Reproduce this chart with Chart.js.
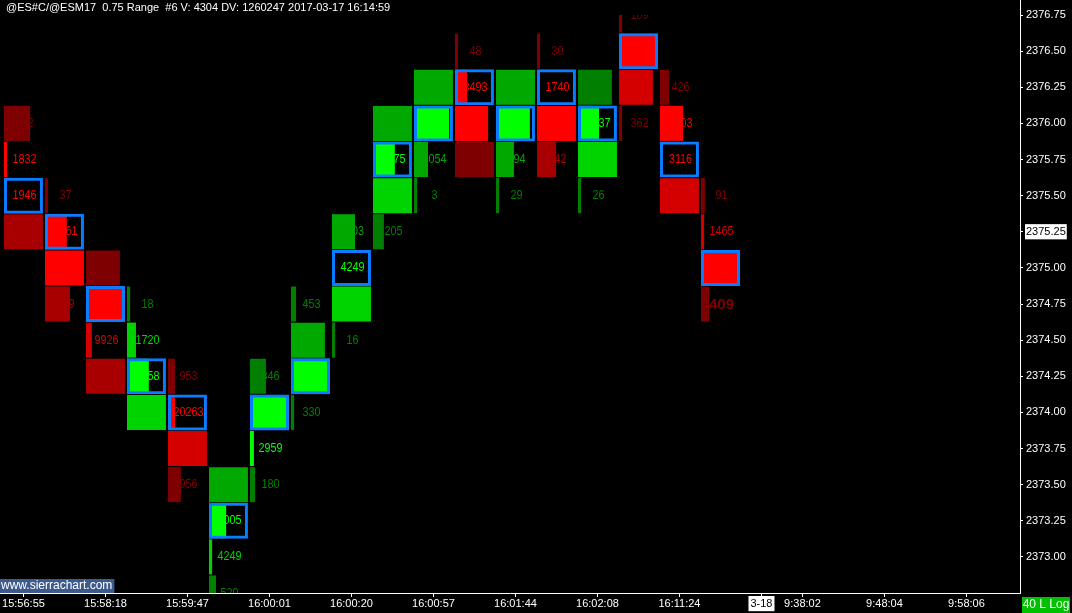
<!DOCTYPE html>
<html>
<head>
<meta charset="utf-8">
<style>
  html, body { margin: 0; padding: 0; background: #000; }
  canvas { display: block; }
</style>
<script src="https://cdn.jsdelivr.net/npm/chart.js@4.4.1/dist/chart.umd.min.js"></script>
</head>
<body>
<canvas id="chart" width="1072" height="613"></canvas>
<script>
/* ── Footprint chart: ES 0.75 range bars ───────────────────── */
const title = '@ES#C/@ESM17  0.75 Range  #6 V: 4304 DV: 1260247 2017-03-17 16:14:59';
const tickSize = 0.25;

// top price of every range bar (each bar covers 4 price levels)
const barHigh = [2376.00, 2375.50, 2375.00, 2374.75, 2374.25, 2373.50, 2374.25, 2374.75, 2375.25,
                 2376.00, 2376.25, 2376.50, 2376.25, 2376.50, 2376.25, 2376.75, 2376.25, 2375.50];

// per bar, levels listed top → bottom
const cellVolume = [
  ['612', '1832', '1946', '1210'], ['37', '2761', '1580', '549'], ['690', '12690', '9926', '5512'],
  ['18', '1720', '3658', '2120'], ['953', '20263', '8410', '956'], ['2210', '3005', '4249', '520'],
  ['346', '9960', '2959', '180'], ['453', '3366', '8840', '330'], ['1103', '4249', '3120', '16'],
  ['3200', '1975', '1450', '205'], ['2380', '11080', '2054', '3'], ['48', '3493', '2630', '1510'],
  ['2120', '9800', '394', '29'], ['30', '1740', '1260', '842'], ['1380', '1537', '1290', '26'],
  ['109', '9420', '4470', '362'], ['426', '1203', '3116', '2280'], ['91', '1465', '9910', '409']
];
// bar length, % of a full cell
const cellFill = [
  [67, 8, 0, 100], [8, 56, 100, 64], [87, 100, 15, 100], [8, 23, 56, 100], [18, 18, 100, 33],
  [100, 44, 8, 18], [41, 100, 10, 13], [13, 87, 100, 8], [59, 0, 100, 8], [100, 56, 100, 28],
  [100, 90, 36, 8], [8, 31, 85, 100], [100, 87, 46, 8], [8, 0, 100, 49], [87, 54, 100, 8],
  [8, 100, 87, 8], [23, 59, 0, 100], [10, 8, 100, 21]
];
// delta strength: -4 strong selling … +4 strong buying
const cellDelta = [
  [-1, -4, -4, -2], [-1, -4, -4, -2], [-1, -4, -3, -2], [1, 3, 4, 3], [-1, -4, -3, -1],
  [2, 4, 3, 1], [1, 4, 4, 1], [1, 2, 4, 1], [2, 4, 3, 1], [2, 4, 3, 1],
  [2, 4, 2, 1], [-1, -4, -4, -1], [2, 4, 2, 1], [-1, -4, -4, -2], [1, 4, 3, 1],
  [-1, -4, -3, -1], [-1, -4, -4, -3], [-1, -3, -4, -1]
];
// point of control: level index inside each bar
const pocLevel = [2, 1, 1, 2, 1, 1, 1, 2, 1, 1, 1, 1, 1, 1, 1, 1, 2, 2];

const timeCols   = [0, 2, 4, 6, 8, 10, 12, 14, 16, 18, 19, 21, 23];
const timeLabels = ['15:56:55', '15:58:18', '15:59:47', '16:00:01', '16:00:20', '16:00:57', '16:01:44',
                    '16:02:08', '16:11:24', '3-18', '9:38:02', '9:48:04', '9:58:06'];
const lastPrice = 2375.25;
const priceMin = 2372.75, priceMax = 2376.75;

/* ── styles ─────────────────────────────────────────────── */
const shade = {
  '-4': '#FF0000', '-3': '#D40000', '-2': '#A80000', '-1': '#7F0000',
  '1': '#007F00', '2': '#00A800', '3': '#00D400', '4': '#00FF00'
};
const FULL = 0.95;           // cell width in bar units
const axisFont = { family: 'Liberation Sans', size: 11 };

/* ── build cells ────────────────────────────────────────── */
const cells = [], cellColors = [], cellTexts = [], pocs = [];
barHigh.forEach((hi, c) => {
  cellVolume[c].forEach((vol, k) => {
    const p = hi - k * tickSize;
    const col = shade[cellDelta[c][k]];
    cells.push({ x: [c, c + cellFill[c][k] / 100 * FULL], y: p });
    cellColors.push(col);
    cellTexts.push({ col: c, price: p, text: vol, color: col });
    if (k === pocLevel[c]) pocs.push({ x: [c, c + FULL], y: p });
  });
});

/* ── plugins ────────────────────────────────────────────── */
const cellLabels = {
  id: 'cellLabels',
  beforeDatasetsDraw(chart) {
    const { ctx, chartArea: a, scales: { x, y } } = chart;
    ctx.save();
    ctx.beginPath();
    ctx.rect(a.left, a.top, a.right - a.left, a.bottom - a.top);
    ctx.clip();
    ctx.textAlign = 'center';
    ctx.textBaseline = 'middle';
    cellTexts.forEach((t, i) => {
      const last = i === cellTexts.length - 1;
      ctx.save();
      ctx.translate(x.getPixelForValue(t.col + 0.5), y.getPixelForValue(t.price));
      if (last) {
        ctx.font = 'bold 15px "Liberation Sans"';
        ctx.translate(0, 1);
      } else {
        ctx.font = '13px "Liberation Sans"';
        ctx.scale(0.83, 1);
      }
      ctx.fillStyle = t.color;
      ctx.fillText(t.text, 0, 0);
      ctx.restore();
    });
    ctx.restore();
  }
};

const decorations = {
  id: 'decorations',
  afterDraw(chart) {
    const { ctx, chartArea: a } = chart;
    ctx.save();
    // axis line continues up to the top edge
    ctx.strokeStyle = '#fff';
    ctx.lineWidth = 1;
    ctx.beginPath();
    ctx.moveTo(a.right + 0.5, 0);
    ctx.lineTo(a.right + 0.5, a.top);
    ctx.stroke();

    ctx.font = '11px "Liberation Sans"';
    ctx.textBaseline = 'middle';
    ctx.fillStyle = '#fff';
    ctx.fillText(title, 6, 8);

    // watermark
    ctx.font = '12px "Liberation Sans"';
    const w = ctx.measureText('www.sierrachart.com').width;
    ctx.fillStyle = '#3D5A8C';
    ctx.fillRect(0, a.bottom - 14, w + 3, 14);
    ctx.fillStyle = '#fff';
    ctx.fillText('www.sierrachart.com', 1, a.bottom - 7);

    // scale mode badge
    ctx.fillStyle = '#00C000';
    ctx.fillRect(a.right + 2, a.bottom + 4, 48, 16);
    ctx.fillStyle = '#fff';
    ctx.textAlign = 'center';
    ctx.fillText('40 L Log', a.right + 26, a.bottom + 12);
    ctx.restore();
  }
};

/* ── chart ──────────────────────────────────────────────── */
new Chart(document.getElementById('chart'), {
  type: 'bar',
  data: {
    datasets: [
      {
        label: 'POC', data: pocs, order: 0, grouped: false,
        backgroundColor: 'rgba(0,0,0,0)', borderColor: '#0A7CFF', borderWidth: 3,
        borderSkipped: false, barThickness: 36, inflateAmount: 0
      },
      {
        label: 'Volume', data: cells, order: 1, grouped: false,
        backgroundColor: cellColors, borderWidth: 0, barThickness: 35, inflateAmount: 0
      }
    ]
  },
  options: {
    indexAxis: 'y',
    responsive: false,
    animation: false,
    devicePixelRatio: 1,
    layout: { padding: { top: 15, left: 0, right: 0, bottom: 0 } },
    plugins: { legend: { display: false }, tooltip: { enabled: false } },
    scales: {
      x: {
        type: 'linear', min: -4 / 41, max: 1016 / 41, offset: false,
        afterBuildTicks: s => { s.ticks = timeCols.map(c => ({ value: c + 0.475 })); },
        afterFit: s => { s.height = 20; },
        ticks: {
          autoSkip: false, maxRotation: 0, padding: 0, font: axisFont,
          callback: (v, i) => timeLabels[i],
          color: ctx => (ctx.tick && ctx.tick.label === '3-18') ? '#000' : '#fff',
          showLabelBackdrop: ctx => !!(ctx.tick && ctx.tick.label === '3-18'),
          backdropColor: '#fff',
          backdropPadding: { top: 1, bottom: 1, left: 2, right: 2 }
        },
        grid: { drawOnChartArea: false, drawTicks: true, tickLength: 4, color: '#fff', tickColor: '#fff', offset: false },
        border: { color: '#fff' }
      },
      y: {
        type: 'linear', position: 'right', min: priceMin, max: priceMax, offset: false,
        afterBuildTicks: s => { s.ticks = s.ticks.filter(t => t.value > priceMin + 0.1); },
        afterFit: s => { s.width = 52; },
        ticks: {
          stepSize: tickSize, padding: 3, font: axisFont,
          callback: v => v.toFixed(2),
          color: ctx => (ctx.tick && Math.abs(ctx.tick.value - lastPrice) < 1e-6) ? '#000' : '#fff',
          showLabelBackdrop: ctx => !!(ctx.tick && Math.abs(ctx.tick.value - lastPrice) < 1e-6),
          backdropColor: '#fff',
          backdropPadding: { top: 1, bottom: 1, left: 1, right: 1 }
        },
        grid: { drawOnChartArea: false, drawTicks: true, tickLength: 3, color: '#fff', tickColor: '#fff', offset: false },
        border: { color: '#fff' }
      }
    }
  },
  plugins: [cellLabels, decorations]
});
</script>
</body>
</html>
